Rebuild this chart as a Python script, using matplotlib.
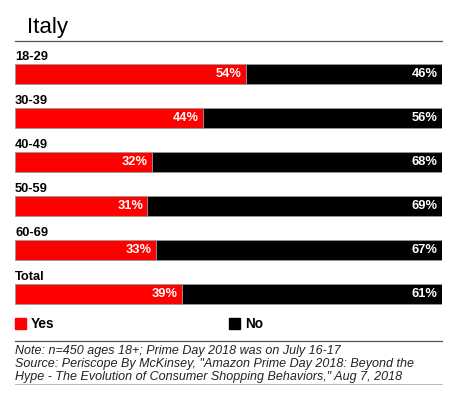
import matplotlib
matplotlib.use("Agg")
import matplotlib.pyplot as plt
from matplotlib.patches import Rectangle

plt.rcParams["font.family"] = ["Liberation Sans", "DejaVu Sans"]

groups = ["18-29", "30-39", "40-49", "50-59", "60-69", "Total"]
yes = [54, 44, 32, 31, 33, 39]
no = [46, 56, 68, 69, 67, 61]
RED = "#ff0000"
BLACK = "#000000"

W, H = 475, 393
fig = plt.figure(figsize=(W / 100, H / 100), dpi=100)

# axes in pixel space for the bars: x 15..442, y 44..310
ax = fig.add_axes([15 / W, (H - 310) / H, 427 / W, 266 / H])
ax.set_xlim(0, 100)
ax.set_ylim(310, 44)
ax.axis("off")

step, first, bh = 44, 74, 20
for i, g in enumerate(groups):
    yc = first + step * i
    ax.barh(yc, yes[i], height=bh, color=RED, edgecolor="#999999", linewidth=0.6)
    ax.barh(yc, no[i], left=yes[i], height=bh, color=BLACK, edgecolor="#999999", linewidth=0.6)
    ax.text(0, yc - 17, g, ha="left", va="center", fontsize=9.3, fontweight="bold")
    ax.text(yes[i] - 1, yc, f"{yes[i]}%", ha="right", va="center", color="white",
            fontsize=9.3, fontweight="bold")
    ax.text(99, yc, f"{no[i]}%", ha="right", va="center", color="white",
            fontsize=9.3, fontweight="bold")

# title and rules
fig.text(27 / W, 1 - 28 / H, "Italy", fontsize=16, va="center", ha="left")
fig.add_artist(plt.Line2D([15 / W, 442 / W], [1 - 41 / H] * 2, color="#555555", lw=0.9))
fig.add_artist(plt.Line2D([15 / W, 442 / W], [1 - 341 / H] * 2, color="#555555", lw=0.9))
fig.add_artist(plt.Line2D([15 / W, 442 / W], [1 - 384 / H] * 2, color="#bbbbbb", lw=0.7))

# legend
for x0, col, lab in [(15, RED, "Yes"), (229, BLACK, "No")]:
    fig.add_artist(Rectangle((x0 / W, 1 - 329 / H), 11 / W, 11 / H, color=col,
                             transform=fig.transFigure))
    fig.text((x0 + 16) / W, 1 - 323.5 / H, lab, fontsize=9.8, fontweight="bold", va="center")

notes = ["Note: n=450 ages 18+; Prime Day 2018 was on July 16-17",
         "Source: Periscope By McKinsey, \"Amazon Prime Day 2018: Beyond the",
         "Hype - The Evolution of Consumer Shopping Behaviors,\" Aug 7, 2018"]
for k, line in enumerate(notes):
    fig.text(15 / W, 1 - (351 + 13 * k) / H, line, fontsize=9, style="italic",
             va="center", color="#222222")

fig.savefig("out.png", dpi=100, facecolor="white")
